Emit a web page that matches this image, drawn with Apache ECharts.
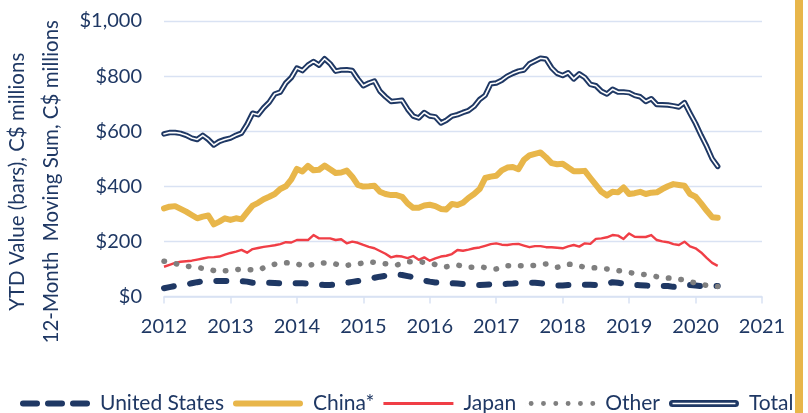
<!DOCTYPE html>
<html lang="en">
  <head>
    <meta charset="UTF-8" />
    <title>Exports by destination</title>
    <style>
      * {
        padding: 0;
        margin: 0;
      }
      html,
      body {
        width: 100%;
        height: 100%;
        background: #fff;
      }
      #main {
        width: 808px;
        height: 413px;
      }
    </style>
  </head>
  <body>
    <div id="main"></div>
    <script src="https://cdn.jsdelivr.net/npm/echarts@6/dist/echarts.min.js"></script>
    <script>
      // monthly, Jan 2012 .. May 2020, 12-month moving sum, C$ millions
      var startYear = 2012;
      var seriesNames = ['United States', 'China*', 'Japan', 'Other', 'Total'];
      var yTicks = [0, 200, 400, 600, 800, 1000];
      var xTicks = [2012, 2013, 2014, 2015, 2016, 2017, 2018, 2019, 2020, 2021];

      var unitedStates = [
        30, 34, 38, 40, 44, 48, 52, 55, 57, 57, 56, 56,
        56, 56, 56, 54, 50, 48, 50, 50, 49, 48, 48, 48,
        48, 48, 47, 45, 43, 42, 42, 43, 46, 50, 53, 56,
        60, 64, 68, 72, 75, 78, 80, 78, 74, 70, 64, 58,
        54, 51, 49, 48, 48, 47, 45, 43, 42, 42, 43, 44,
        45, 45, 46, 47, 49, 50, 50, 50, 48, 46, 43, 40,
        40, 42, 42, 42, 43, 43, 42, 42, 46, 52, 50, 47,
        46, 42, 41, 40, 38, 38, 38, 38, 35, 36, 40, 42,
        40, 38, 38, 38, 38
      ];
      var china = [
        320, 326, 328, 318, 308, 296, 284, 290, 294, 262, 272, 284,
        278, 284, 280, 305, 330, 340, 353, 362, 372, 390, 400, 425,
        463, 454, 474, 458, 460, 475, 462, 448, 450, 457, 435, 405,
        399, 400, 402, 380, 372, 368, 368, 362, 338, 322, 322, 330,
        333, 328, 318, 316, 336, 332, 340, 358, 372, 390, 430, 435,
        438, 458, 468, 470, 462, 496, 512, 518, 523, 505, 484, 480,
        482, 468, 455, 455, 456, 430, 405, 380, 367, 380, 378, 396,
        372, 375, 380, 372, 377, 378, 390, 400, 408, 405, 402, 372,
        362, 338, 312, 288, 286
      ];
      var japan = [
        108, 115, 122, 126, 128, 130, 134, 138, 142, 143, 145, 152,
        158, 163, 169, 159, 172, 176, 180, 183, 186, 190, 197, 196,
        205, 205, 205, 223, 211, 211, 211, 205, 208, 193, 199, 195,
        187, 180, 175, 165, 155, 142, 147, 145, 139, 147, 133, 142,
        130, 138, 145, 148, 154, 169, 166, 170, 175, 178, 184, 190,
        193, 188, 187, 190, 191, 185, 179, 183, 183, 179, 179, 177,
        175, 182, 187, 181, 193, 191, 209, 211, 215, 223, 221, 209,
        229, 217, 216, 216, 223, 205, 200, 197, 190, 187, 199, 182,
        175, 160, 140, 122, 111
      ];
      var other = [
        128, 125, 120, 114, 110, 108, 106, 102, 99, 94, 90, 93,
        96, 97, 99, 98, 97, 96, 104, 112, 117, 121, 122, 123,
        118, 113, 112, 117, 121, 122, 122, 118, 112, 113, 116, 118,
        122, 126, 124, 122, 119, 116, 114, 120, 126, 126, 126, 124,
        122, 116, 110, 108, 112, 114, 110, 106, 107, 108, 105, 101,
        100, 106, 112, 112, 112, 112, 112, 113, 116, 118, 113, 106,
        110, 117, 116, 110, 107, 105, 104, 102, 100, 97, 94, 91,
        87, 84, 81, 79, 76, 72, 70, 67, 66, 63, 60, 54,
        49, 45, 40, 38, 36
      ];
      var total = [
        590, 595, 595, 592, 585, 575, 570, 585, 570, 550, 563, 570,
        575, 585, 593, 625, 665, 660, 685, 705, 735, 742, 775, 795,
        829, 820, 840, 853, 840, 863, 845, 818, 822, 823, 820, 790,
        765, 775, 782, 745, 725, 708, 710, 712, 680, 655, 648, 668,
        655, 652, 630, 640, 655, 660, 668, 675, 690, 715, 730, 772,
        775, 785, 800, 810, 818, 822, 845, 855, 865, 862, 830, 810,
        802, 812, 790, 808, 795, 770, 765, 745, 735, 752, 742, 742,
        740, 730, 725, 708, 718, 697, 696, 695, 692, 688, 704, 665,
        628, 585, 545, 500, 472
      ];

      var navy = '#1F3864';
      var gold = '#E8B64A';
      var red = '#F03E46';
      var grey = '#7F7F7F';
      var gridColor = '#D9E2F3';

      // turn month index into fractional year on the value axis
      function toPoints(values) {
        return values.map(function(v, i) {
          return [startYear + i / 12, v];
        });
      }

      function money(v) {
        return '$' + v.toString().replace(/\B(?=(\d{3})+(?!\d))/g, ',');
      }

      // legend icons, all 70 wide
      var iconUS = 'path://M3 1H17A3 3 0 0 1 17 7H3A3 3 0 0 1 3 1Z M28 1H42A3 3 0 0 1 42 7H28A3 3 0 0 1 28 1Z M53 1H67A3 3 0 0 1 67 7H53A3 3 0 0 1 53 1Z M0 0H0.01V8H0Z M69.99 0H70V8H69.99Z';
      var iconChina = 'path://M3 1H67A3 3 0 0 1 67 7H3A3 3 0 0 1 3 1Z M0 0H0.01V8H0Z M69.99 0H70V8H69.99Z';
      var iconJapan = 'path://M0 2.6H70V5.4H0Z M0 0H0.01V8H0Z M69.99 0H70V8H69.99Z';
      var iconOther = 'path://M3.5 4A2.5 2.5 0 1 0 8.5 4A2.5 2.5 0 1 0 3.5 4Z M16 4A2.5 2.5 0 1 0 21 4A2.5 2.5 0 1 0 16 4Z M28.5 4A2.5 2.5 0 1 0 33.5 4A2.5 2.5 0 1 0 28.5 4Z M41 4A2.5 2.5 0 1 0 46 4A2.5 2.5 0 1 0 41 4Z M53.5 4A2.5 2.5 0 1 0 58.5 4A2.5 2.5 0 1 0 53.5 4Z M66 4A2.5 2.5 0 1 0 71 4A2.5 2.5 0 1 0 66 4Z M0 0H0.01V8H0Z';
      var iconTotal = 'path://M4 0.5H66A3.5 3.5 0 0 1 66 7.5H4A3.5 3.5 0 0 1 4 0.5Z M4 3.2V4.8H66V3.2Z';

      var myChart = echarts.init(document.getElementById('main'), null, { renderer: 'canvas' });

      var option = {
        animation: false,
        textStyle: { fontFamily: 'Lato' },
        grid: { left: 164, right: 46, top: 21, bottom: 116.5, outerBoundsMode: 'none' },
        legend: {
          left: 15,
          top: 388,
          itemWidth: 70,
          itemHeight: 8,
          itemGap: 9,
          selectedMode: false,
          textStyle: { color: navy, fontSize: 21, fontFamily: 'Lato', padding: [0, 0, 0, 5] },
          data: [
            { name: seriesNames[0], icon: iconUS, itemStyle: { color: navy } },
            { name: seriesNames[1], icon: iconChina, itemStyle: { color: gold } },
            { name: seriesNames[2], icon: iconJapan, itemStyle: { color: red } },
            { name: seriesNames[3], icon: iconOther, itemStyle: { color: grey } },
            { name: seriesNames[4], icon: iconTotal, itemStyle: { color: navy } }
          ]
        },
        xAxis: {
          type: 'value',
          min: xTicks[0],
          max: xTicks[xTicks.length - 1],
          interval: 1,
          axisLine: { lineStyle: { color: gridColor, width: 1.5 } },
          axisTick: { show: true, length: 7, lineStyle: { color: gridColor, width: 1.5 } },
          splitLine: { show: false },
          axisLabel: { color: navy, fontSize: 20, margin: 20, formatter: function(v) { return String(v); } }
        },
        yAxis: {
          type: 'value',
          min: yTicks[0],
          max: yTicks[yTicks.length - 1],
          interval: 200,
          name: 'YTD Value (bars), C$ millions\n12-Month  Moving Sum, C$ millions',
          nameLocation: 'middle',
          nameRotate: 90,
          nameGap: 94,
          nameTextStyle: { color: navy, fontSize: 20.5, lineHeight: 34, fontFamily: 'Lato', padding: [0, 46, 0, 0] },
          axisLine: { show: false },
          axisTick: { show: false },
          splitLine: { lineStyle: { color: gridColor, width: 1.3 } },
          axisLabel: { color: navy, fontSize: 20, margin: 22, formatter: money }
        },
        series: [
          {
            name: seriesNames[0],
            type: 'line',
            symbol: 'none',
            data: toPoints(unitedStates),
            lineStyle: { color: navy, width: 6, type: [10, 16.5], cap: 'round', join: 'round' },
            itemStyle: { color: navy },
            z: 2
          },
          {
            name: seriesNames[1],
            type: 'line',
            symbol: 'none',
            data: toPoints(china),
            lineStyle: { color: gold, width: 6, cap: 'round', join: 'round' },
            itemStyle: { color: gold },
            z: 3
          },
          {
            name: seriesNames[2],
            type: 'line',
            symbol: 'none',
            data: toPoints(japan),
            lineStyle: { color: red, width: 2.4, join: 'round' },
            itemStyle: { color: red },
            z: 3
          },
          {
            name: seriesNames[3],
            type: 'line',
            symbol: 'none',
            data: toPoints(other),
            lineStyle: { color: grey, width: 5.5, type: [0.5, 12], cap: 'round' },
            itemStyle: { color: grey },
            z: 4
          },
          {
            name: seriesNames[4],
            type: 'line',
            symbol: 'none',
            data: toPoints(total),
            lineStyle: { color: navy, width: 5.5, join: 'round', cap: 'round' },
            itemStyle: { color: navy },
            z: 5
          },
          {
            // white core that makes Total look like a double line
            name: seriesNames[4],
            type: 'line',
            symbol: 'none',
            data: toPoints(total),
            lineStyle: { color: '#ffffff', width: 1.6, join: 'round', cap: 'round' },
            itemStyle: { color: navy },
            z: 6
          }
        ],
        graphic: [
          {
            type: 'rect',
            left: 795,
            top: 0,
            shape: { width: 8, height: 413 },
            style: { fill: gold },
            silent: true
          }
        ]
      };
      myChart.setOption(option);
    </script>
  </body>
</html>
